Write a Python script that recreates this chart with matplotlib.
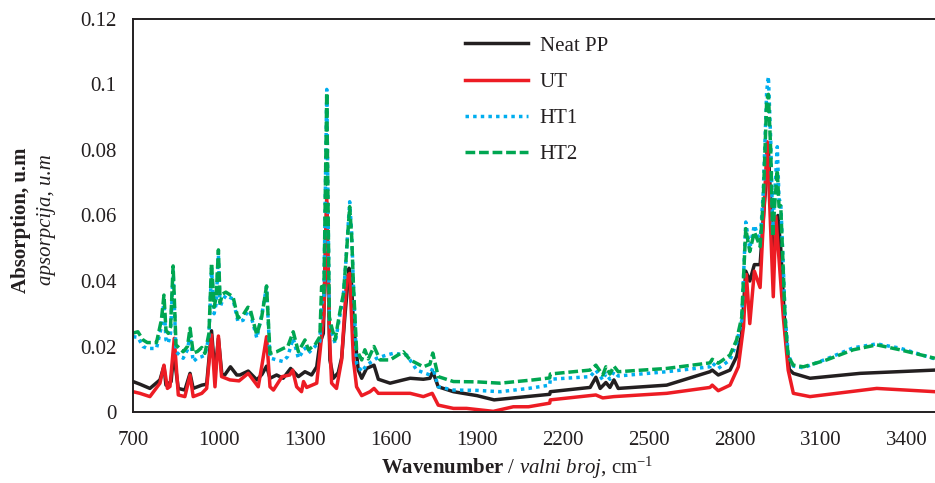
import matplotlib
matplotlib.use("Agg")
import matplotlib.pyplot as plt

# FTIR spectra (wavenumber, absorption)
wn_neat = [700, 724, 759, 794, 808, 815, 833, 842, 858, 881, 899, 910, 940, 957, 974, 986, 998,
           1010, 1020, 1040, 1062, 1073, 1102, 1132, 1150, 1166, 1178, 1201, 1224, 1250, 1277,
           1300, 1323, 1341, 1352, 1364, 1376, 1387, 1399, 1416, 1428, 1440, 1454, 1462, 1469,
           1486, 1498, 1515, 1541, 1556, 1597, 1643, 1667, 1713, 1736, 1746, 1765, 1818, 1900,
           1960, 2050, 2154, 2156, 2295, 2315, 2330, 2350, 2364, 2378, 2393, 2562, 2713, 2721,
           2742, 2783, 2806, 2824, 2838, 2852, 2868, 2888, 2900, 2917, 2934, 2950, 2960, 2975,
           2990, 3004, 3062, 3237, 3498]
ab_neat = [0.0093, 0.0085, 0.0072, 0.0098, 0.0140, 0.0082, 0.0093, 0.0180, 0.0072, 0.0067, 0.0118,
           0.0072, 0.0082, 0.0085, 0.0248, 0.0118, 0.0225, 0.0115, 0.0113, 0.0138, 0.0113, 0.0113,
           0.0125, 0.0098, 0.0115, 0.0140, 0.0103, 0.0113, 0.0103, 0.0133, 0.0108, 0.0123, 0.0113,
           0.0138, 0.0210, 0.0240, 0.0640, 0.0159, 0.0103, 0.0120, 0.0165, 0.0300, 0.0439, 0.0400,
           0.0270, 0.0128, 0.0103, 0.0133, 0.0143, 0.0100, 0.0088, 0.0098, 0.0103, 0.0100, 0.0103,
           0.0123, 0.0077, 0.0062, 0.0050, 0.0037, 0.0045, 0.0054, 0.0062, 0.0075, 0.0106, 0.0072,
           0.0090, 0.0075, 0.0098, 0.0072, 0.0082, 0.0123, 0.0128, 0.0113, 0.0128, 0.0169, 0.0240,
           0.0430, 0.0400, 0.0450, 0.0450, 0.0600, 0.0800, 0.0460, 0.0600, 0.0500, 0.0250, 0.0130,
           0.0118, 0.0103, 0.0118, 0.0128]

wn_ut = [700, 724, 759, 794, 808, 820, 829, 844, 858, 881, 899, 910, 940, 957, 974, 986, 998,
         1009, 1038, 1070, 1102, 1137, 1149, 1166, 1178, 1190, 1220, 1247, 1257, 1271, 1288, 1295,
         1306, 1341, 1352, 1366, 1376, 1385, 1393, 1410, 1428, 1446, 1456, 1469, 1480, 1498, 1527,
         1541, 1556, 1597, 1667, 1713, 1744, 1765, 1818, 1864, 1957, 2027, 2080, 2154, 2156, 2315,
         2339, 2378, 2562, 2713, 2721, 2742, 2783, 2812, 2830, 2840, 2852, 2868, 2888, 2913, 2934,
         2943, 2969, 2986, 3004, 3062, 3295, 3498]
ab_ut = [0.0062, 0.0057, 0.0047, 0.0088, 0.0143, 0.0072, 0.0078, 0.0225, 0.0052, 0.0047, 0.0113,
         0.0047, 0.0057, 0.0072, 0.0235, 0.0077, 0.0232, 0.0108, 0.0098, 0.0095, 0.0118, 0.0077,
         0.0138, 0.0230, 0.0077, 0.0067, 0.0108, 0.0113, 0.0128, 0.0077, 0.0062, 0.0093, 0.0075,
         0.0088, 0.0179, 0.0300, 0.0660, 0.0240, 0.0088, 0.0072, 0.0159, 0.0413, 0.0423, 0.0159,
         0.0077, 0.0050, 0.0062, 0.0072, 0.0057, 0.0057, 0.0057, 0.0047, 0.0057, 0.0021, 0.0011,
         0.0011, 0.0002, 0.0016, 0.0016, 0.0027, 0.0037, 0.0052, 0.0043, 0.0047, 0.0057, 0.0075,
         0.0082, 0.0065, 0.0082, 0.0138, 0.0260, 0.0420, 0.0270, 0.0430, 0.0380, 0.0825, 0.0352,
         0.0596, 0.0290, 0.0128, 0.0057, 0.0047, 0.0072, 0.0062]

wn_ht1 = [700, 717, 735, 750, 782, 799, 808, 815, 823, 831, 840, 850, 875, 890, 899, 910, 925,
          940, 951, 965, 974, 983, 990, 998, 1004, 1012, 1024, 1049, 1066, 1084, 1101, 1108, 1132,
          1149, 1166, 1178, 1201, 1224, 1240, 1259, 1277, 1300, 1312, 1335, 1352, 1358, 1366, 1376,
          1385, 1393, 1405, 1422, 1434, 1442, 1456, 1463, 1469, 1480, 1498, 1515, 1550, 1585, 1608,
          1655, 1690, 1736, 1746, 1765, 1818, 1900, 1981, 2080, 2154, 2156, 2295, 2315, 2339, 2350,
          2364, 2378, 2393, 2562, 2713, 2721, 2742, 2783, 2806, 2824, 2838, 2852, 2868, 2888, 2899,
          2911, 2917, 2925, 2932, 2940, 2948, 2954, 2960, 2967, 2975, 2986, 3004, 3039, 3120, 3213,
          3295, 3376, 3498]
ab_ht1 = [0.0230, 0.0228, 0.0200, 0.0194, 0.0194, 0.0260, 0.0340, 0.0220, 0.0210, 0.0240, 0.0430,
          0.0184, 0.0164, 0.0190, 0.0235, 0.0154, 0.0165, 0.0169, 0.0174, 0.0230, 0.0440, 0.0300,
          0.0330, 0.0480, 0.0320, 0.0340, 0.0356, 0.0345, 0.0276, 0.0280, 0.0310, 0.0305, 0.0226,
          0.0296, 0.0383, 0.0165, 0.0159, 0.0154, 0.0170, 0.0225, 0.0164, 0.0195, 0.0180, 0.0200,
          0.0215, 0.0330, 0.0350, 0.0985, 0.0280, 0.0245, 0.0210, 0.0295, 0.0355, 0.0450, 0.0642,
          0.0545, 0.0390, 0.0149, 0.0123, 0.0143, 0.0164, 0.0174, 0.0179, 0.0174, 0.0128, 0.0113,
          0.0135, 0.0077, 0.0067, 0.0066, 0.0062, 0.0072, 0.0082, 0.0100, 0.0108, 0.0128, 0.0098,
          0.0117, 0.0100, 0.0123, 0.0110, 0.0123, 0.0138, 0.0150, 0.0133, 0.0159, 0.0210, 0.0280,
          0.0580, 0.0500, 0.0570, 0.0520, 0.0670, 0.0980, 0.1024, 0.0830, 0.0560, 0.0680, 0.0810,
          0.0650, 0.0640, 0.0490, 0.0300, 0.0175, 0.0140, 0.0135, 0.0162, 0.0196, 0.0208, 0.0195,
          0.0162]

wn_ht2 = [700, 717, 735, 750, 782, 799, 808, 815, 823, 831, 840, 850, 875, 890, 899, 910, 925,
          940, 951, 965, 974, 983, 990, 998, 1004, 1012, 1024, 1049, 1066, 1084, 1101, 1108, 1132,
          1149, 1166, 1178, 1201, 1224, 1240, 1259, 1277, 1300, 1312, 1335, 1352, 1358, 1366, 1376,
          1385, 1393, 1405, 1422, 1434, 1442, 1456, 1463, 1469, 1480, 1498, 1509, 1521, 1541, 1562,
          1597, 1643, 1667, 1713, 1736, 1746, 1765, 1818, 1900, 1981, 2096, 2154, 2156, 2295, 2315,
          2339, 2350, 2364, 2378, 2393, 2562, 2713, 2721, 2742, 2783, 2806, 2824, 2838, 2852, 2868,
          2888, 2899, 2911, 2917, 2925, 2932, 2940, 2948, 2954, 2960, 2967, 2975, 2986, 3004, 3039,
          3120, 3213, 3295, 3376, 3498]
ab_ht2 = [0.0241, 0.0245, 0.0220, 0.0212, 0.0212, 0.0281, 0.0357, 0.0250, 0.0240, 0.0260, 0.0446,
          0.0205, 0.0184, 0.0200, 0.0256, 0.0180, 0.0185, 0.0197, 0.0179, 0.0240, 0.0455, 0.0320,
          0.0350, 0.0495, 0.0333, 0.0360, 0.0366, 0.0352, 0.0287, 0.0296, 0.0320, 0.0317, 0.0235,
          0.0290, 0.0385, 0.0179, 0.0184, 0.0194, 0.0200, 0.0245, 0.0184, 0.0220, 0.0190, 0.0205,
          0.0230, 0.0383, 0.0360, 0.0975, 0.0290, 0.0260, 0.0220, 0.0306, 0.0360, 0.0450, 0.0627,
          0.0535, 0.0390, 0.0190, 0.0159, 0.0190, 0.0162, 0.0200, 0.0159, 0.0159, 0.0184, 0.0159,
          0.0138, 0.0146, 0.0180, 0.0108, 0.0093, 0.0092, 0.0088, 0.0098, 0.0104, 0.0116, 0.0128,
          0.0143, 0.0113, 0.0138, 0.0116, 0.0140, 0.0123, 0.0133, 0.0150, 0.0161, 0.0149, 0.0174,
          0.0220, 0.0290, 0.0560, 0.0490, 0.0550, 0.0505, 0.0647, 0.0950, 0.0970, 0.0800, 0.0535,
          0.0647, 0.0739, 0.0627, 0.0630, 0.0474, 0.0290, 0.0169, 0.0143, 0.0138, 0.0159, 0.0190,
          0.0205, 0.0190, 0.0164]

x_ticks = [700, 1000, 1300, 1600, 1900, 2200, 2500, 2800, 3100, 3400]
y_ticks = [0, 0.02, 0.04, 0.06, 0.08, 0.1, 0.12]
y_tick_labels = ["0", "0.02", "0.04", "0.06", "0.08", "0.1", "0.12"]

plt.rcParams['font.family'] = ['Liberation Serif', 'DejaVu Serif']
plt.rcParams['mathtext.fontset'] = 'custom'
plt.rcParams['mathtext.rm'] = 'Liberation Serif'
plt.rcParams['mathtext.it'] = 'Liberation Serif:italic'
plt.rcParams['mathtext.bf'] = 'Liberation Serif:bold'

txt = '#231F20'
fs = 15
fig = plt.figure(figsize=(9.35, 4.83), dpi=100)
ax = fig.add_axes([133 / 935, 1 - 412 / 483, 802.5 / 935, 393 / 483])

lw = 2.5
ax.plot(wn_neat, ab_neat, color='#231F20', lw=lw, label='Neat PP')
ax.plot(wn_ut, ab_ut, color='#ED1C24', lw=lw, label='UT')
ax.plot(wn_ht1, ab_ht1, color='#00AEEF', lw=lw, ls=(0, (1, 1.2)), label='HT1')
ax.plot(wn_ht2, ab_ht2, color='#00A651', lw=lw, ls=(0, (2.8, 1.1)), label='HT2')

ax.set_xlim(700, 3500)
ax.set_ylim(0, 0.12)
ax.set_xticks(x_ticks)
ax.set_yticks(y_ticks)
ax.set_yticklabels(y_tick_labels)
ax.tick_params(axis='both', length=0, labelsize=fs, colors=txt)
ax.tick_params(axis='x', pad=14)
ax.tick_params(axis='y', pad=12)
for s in ['left', 'top', 'bottom']:
    ax.spines[s].set_linewidth(1.4)
    ax.spines[s].set_color(txt)
ax.spines['right'].set_visible(False)

leg = ax.legend(loc='upper left', bbox_to_anchor=(465 / 935, 1 - 36 / 483),
                bbox_transform=fig.transFigure, frameon=False, fontsize=fs,
                handlelength=3.0, handletextpad=0.58, labelspacing=0.8,
                borderpad=0, borderaxespad=0)
for t in leg.get_texts():
    t.set_color(txt)

fig.text(21 / 935, 1 - 220 / 483, 'Absorption, u.m', rotation=90, ha='center', va='center',
         fontsize=fs, fontweight='bold', color=txt)
fig.text(47 / 935, 1 - 220 / 483, 'apsorpcija, u.m', rotation=90, ha='center', va='center',
         fontsize=fs, style='italic', color=txt)
fig.text(517 / 935, 1 - 468 / 483, r'$\mathbf{Wavenumber}$ / $\mathit{valni\ broj}$, cm$^{-1}$',
         ha='center', va='center', fontsize=fs, color=txt)

fig.savefig('out.png', dpi=100)
